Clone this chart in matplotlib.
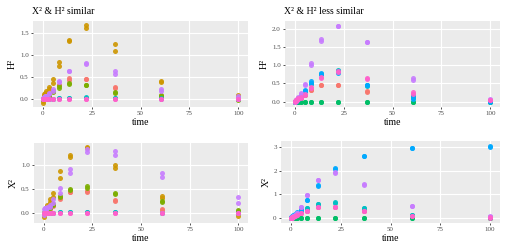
import numpy as np
import matplotlib
matplotlib.use('Agg')
import matplotlib.pyplot as plt

plt.rcParams['font.family'] = ['Liberation Serif', 'DejaVu Serif']

# sampling times (shared by all panels)
times = [0, 0.4, 0.7, 1.1, 1.8, 3, 5, 8.2, 13.5, 22.3, 36.8, 60.7, 100]

# ggplot hue palette (8 levels)
pal = {'red': '#F8766D', 'gold': '#CD9600', 'olive': '#7CAE00', 'green': '#00BE67',
       'cyan': '#00BFC4', 'blue': '#00A9FF', 'purple': '#C77CFF', 'pink': '#FF61CC'}
draw_order = ['red', 'gold', 'olive', 'green', 'cyan', 'blue', 'purple', 'pink']

zeros = [0] * 13

# H^2, similar case (two replicates per group)
h2_sim = {
    'red':    ([0, 0.01, 0.02, 0.03, 0.06, 0.10, 0.18, 0.32, 0.46, 0.45, 0.26, 0.07, 0.03],
               [0, 0.01, 0.02, 0.03, 0.05, 0.09, 0.17, 0.30, 0.43, 0.44, 0.24, 0.05, 0.02]),
    'gold':   ([-0.05, 0.05, 0.10, 0.12, 0.17, 0.26, 0.45, 0.84, 1.33, 1.67, 1.24, 0.39, 0.09],
               [-0.10, 0.00, 0.05, 0.08, 0.12, 0.22, 0.36, 0.74, 1.32, 1.60, 1.09, 0.37, 0.05]),
    'olive':  ([0, 0.01, 0.01, 0.02, 0.04, 0.08, 0.17, 0.29, 0.35, 0.31, 0.16, 0.09, 0.00],
               [0, 0.00, 0.01, 0.02, 0.03, 0.07, 0.15, 0.25, 0.33, 0.30, 0.13, 0.07, -0.02]),
    'cyan':   ([0, 0, 0, 0, 0, 0, 0, 0.01, 0.02, 0.02, 0.01, 0.01, 0],
               [0, 0, 0, 0, 0, 0, 0, 0.01, 0.02, 0.03, 0.01, 0.00, 0]),
    'purple': ([0.01, 0.02, 0.03, 0.05, 0.07, 0.12, 0.22, 0.41, 0.63, 0.82, 0.63, 0.22, 0.05],
               [0.00, 0.01, 0.02, 0.04, 0.06, 0.10, 0.18, 0.38, 0.62, 0.79, 0.57, 0.18, 0.02]),
    'pink':   (zeros, zeros),
}

# H^2, less similar case
h2_less = {
    'red':    ([0, 0.01, 0.02, 0.03, 0.05, 0.10, 0.18, 0.32, 0.46, 0.46, 0.28, 0.20, 0.02],
               [0, 0.01, 0.02, 0.03, 0.05, 0.09, 0.17, 0.31, 0.45, 0.45, 0.27, 0.19, 0.01]),
    'green':  (zeros, zeros),
    'cyan':   ([0, 0.01, 0.02, 0.04, 0.08, 0.15, 0.29, 0.50, 0.77, 0.86, 0.45, 0.12, 0.01],
               [0, 0.01, 0.02, 0.04, 0.07, 0.14, 0.28, 0.48, 0.76, 0.84, 0.44, 0.10, 0.01]),
    'blue':   ([0, 0.01, 0.03, 0.05, 0.09, 0.17, 0.33, 0.56, 0.78, 0.85, 0.47, 0.15, 0.01],
               [0, 0.01, 0.02, 0.04, 0.08, 0.15, 0.30, 0.50, 0.75, 0.80, 0.46, 0.08, 0.00]),
    'purple': ([0.02, 0.03, 0.05, 0.08, 0.12, 0.24, 0.49, 1.07, 1.72, 2.09, 1.65, 0.64, 0.06],
               [0.00, 0.02, 0.04, 0.07, 0.10, 0.20, 0.47, 1.00, 1.67, 2.09, 1.64, 0.60, 0.04]),
    'pink':   ([0.01, 0.02, 0.04, 0.06, 0.09, 0.12, 0.20, 0.40, 0.68, 0.83, 0.64, 0.25, 0.04],
               [0.00, 0.01, 0.03, 0.05, 0.08, 0.10, 0.18, 0.37, 0.66, 0.82, 0.62, 0.22, 0.03]),
}

# X^2, similar case
x2_sim = {
    'red':    ([0, 0.01, 0.02, 0.03, 0.05, 0.09, 0.15, 0.30, 0.44, 0.45, 0.26, 0.07, 0.01],
               [0, 0.01, 0.02, 0.03, 0.05, 0.08, 0.14, 0.29, 0.43, 0.44, 0.25, 0.06, 0.00]),
    'gold':   ([-0.05, 0.02, 0.06, 0.10, 0.15, 0.28, 0.42, 0.87, 1.20, 1.38, 0.99, 0.35, 0.02],
               [-0.10, 0.00, 0.03, 0.07, 0.12, 0.22, 0.33, 0.73, 1.17, 1.35, 0.94, 0.31, -0.07]),
    'olive':  ([0, 0.01, 0.02, 0.04, 0.07, 0.12, 0.18, 0.35, 0.50, 0.56, 0.42, 0.24, 0.05],
               [0, 0.00, 0.01, 0.03, 0.06, 0.10, 0.15, 0.32, 0.47, 0.52, 0.38, 0.22, 0.03]),
    'cyan':   ([0, 0, 0, 0, 0, 0, 0, 0.01, 0.02, 0.02, 0.01, 0, 0],
               [0, 0, 0, 0, 0, 0, 0, 0.01, 0.01, 0.02, 0.01, 0, 0]),
    'purple': ([0.08, 0.10, 0.10, 0.10, 0.12, 0.15, 0.28, 0.52, 0.92, 1.32, 1.28, 0.82, 0.32],
               [-0.05, 0.06, 0.07, 0.08, 0.10, 0.12, 0.20, 0.42, 0.82, 1.27, 1.20, 0.74, 0.20]),
    'pink':   (zeros, zeros),
}

# X^2, less similar case
x2_less = {
    'red':    ([0, 0.01, 0.03, 0.05, 0.08, 0.12, 0.20, 0.30, 0.45, 0.46, 0.30, 0.08, 0.02],
               [0, 0.01, 0.02, 0.04, 0.07, 0.11, 0.19, 0.29, 0.44, 0.45, 0.28, 0.07, 0.01]),
    'green':  (zeros, zeros),
    'cyan':   ([0, 0.01, 0.03, 0.05, 0.08, 0.15, 0.30, 0.42, 0.60, 0.65, 0.42, 0.12, 0.03],
               [0, 0.01, 0.02, 0.04, 0.07, 0.13, 0.28, 0.40, 0.58, 0.63, 0.40, 0.10, 0.02]),
    'blue':   ([0.02, 0.04, 0.06, 0.10, 0.15, 0.25, 0.35, 0.75, 1.35, 2.08, 2.62, 2.94, 3.00],
               [0.01, 0.03, 0.05, 0.08, 0.12, 0.22, 0.32, 0.77, 1.38, 2.10, 2.63, 2.95, 3.02]),
    'purple': ([0.00, 0.02, 0.05, 0.08, 0.12, 0.22, 0.47, 0.97, 1.60, 1.92, 1.42, 0.50, 0.07],
               [0.00, 0.02, 0.04, 0.07, 0.11, 0.20, 0.45, 0.95, 1.58, 1.90, 1.40, 0.48, 0.05]),
    'pink':   ([0, 0.01, 0.03, 0.05, 0.08, 0.12, 0.20, 0.30, 0.45, 0.46, 0.30, 0.08, 0.02],
               [0, 0.01, 0.02, 0.04, 0.07, 0.11, 0.18, 0.28, 0.44, 0.45, 0.27, 0.07, 0.01]),
}

W, H = 505, 252
fig = plt.figure(figsize=(W / 100, H / 100), dpi=100)


def make_ax(l, r, t, b):
    return fig.add_axes([l / W, 1 - b / H, (r - l) / W, (b - t) / H])


def draw(ax, data, ylab, ylim, yticks, yfmt, title=None):
    ax.set_facecolor('#EBEBEB')
    for k in draw_order:
        if k not in data:
            continue
        for rep in data[k]:
            ax.scatter(times, rep, s=13, color=pal[k], linewidths=0, alpha=0.9, zorder=3)
    ax.set_xlim(-5, 105)
    ax.set_ylim(*ylim)
    ax.set_xticks([0, 25, 50, 75, 100])
    ax.set_yticks(yticks)
    ax.set_yticklabels([yfmt % v for v in yticks])
    ax.grid(True, color='#FFFFFF', linewidth=0.8, zorder=0)
    ax.set_axisbelow(True)
    for sp in ax.spines.values():
        sp.set_visible(False)
    ax.tick_params(length=1.6, width=0.6, color='#333333', labelcolor='#4D4D4D',
                   labelsize=5, pad=1.5)
    ax.set_xlabel('time', fontsize=7, labelpad=1.5)
    ax.set_ylabel(ylab, fontsize=7, labelpad=2)
    if title:
        ax.set_title(title, fontsize=7, loc='left', pad=5, x=-0.005)


ax1 = make_ax(33, 248, 21, 107)
draw(ax1, h2_sim, 'H²', (-0.19, 1.765), [0, 0.5, 1.0, 1.5], '%.1f', 'X² & H² similar')

ax2 = make_ax(285, 500, 21, 107)
draw(ax2, h2_less, 'H²', (-0.15, 2.22), [0, 0.5, 1.0, 1.5, 2.0], '%.1f', 'X² & H² less similar')

ax3 = make_ax(34, 248, 142.7, 222.7)
draw(ax3, x2_sim, 'X²', (-0.21, 1.46), [0, 0.5, 1.0], '%.1f')

ax4 = make_ax(281, 500, 141, 222.7)
draw(ax4, x2_less, 'X²', (-0.21, 3.25), [0, 1, 2, 3], '%d')

fig.savefig('out.png', dpi=100)
